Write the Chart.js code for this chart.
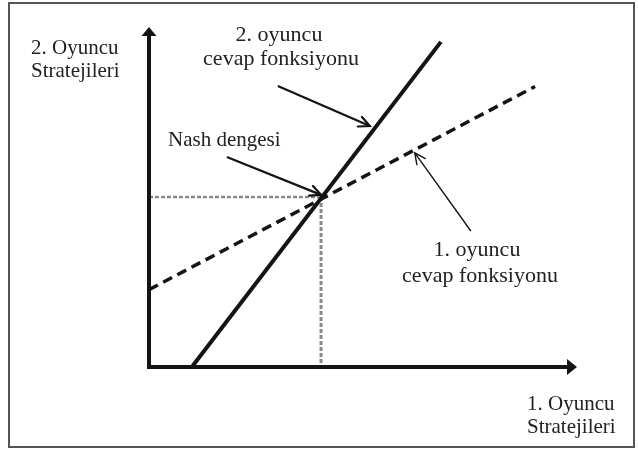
<!DOCTYPE html>
<html>
<head>
<meta charset="utf-8">
<script src="https://cdn.jsdelivr.net/npm/chart.js@4.4.1/dist/chart.umd.min.js"></script>
<style>
    html, body { margin: 0; padding: 0; background: #fff; }
    canvas { display: block; }
</style>
</head>
<body>
<canvas id="nashChart" width="638" height="449"></canvas>
<script>
// strategy space (abstract units)
var xMax = 10;
var yMax = 8;

// reaction functions, [x, y] end points
var player2Response = [[1, 0], [6.82, 7.65]];
var player1Response = [[0, 1.82], [9.02, 6.6]];
var nashPoint = [4.02, 4.0];

// pointer arrows from the labels, [from, to]
var nashPointer = [[1.82, 4.94], [4.02, 4.05]];
var player2Pointer = [[3.01, 6.61], [5.16, 5.67]];
var player1Pointer = [[7.52, 3.2], [6.21, 5.04]];

// texts
var yAxisTitle = ["2. Oyuncu", "Stratejileri"];
var xAxisTitle = ["1. Oyuncu", "Stratejileri"];
var player2Label = ["2. oyuncu", "cevap fonksiyonu"];
var player1Label = ["1. oyuncu", "cevap fonksiyonu"];
var nashLabel = "Nash dengesi";

function pts(arr) {
    return arr.map(function (p) { return { x: p[0], y: p[1] }; });
}

var ink = '#141414';
var FONT = '22px "Liberation Serif", "Times New Roman", serif';
var FONT_SMALL = '21px "Liberation Serif", "Times New Roman", serif';

var framePlugin = {
    id: 'frame',
    beforeDraw: function (chart) {
        var ctx = chart.ctx;
        ctx.save();
        ctx.fillStyle = '#fff';
        ctx.fillRect(0, 0, chart.width, chart.height);
        ctx.strokeStyle = '#555';
        ctx.lineWidth = 2;
        ctx.strokeRect(9, 3, 625, 444);
        ctx.restore();
    }
};

var axesPlugin = {
    id: 'axesArrows',
    afterDatasetsDraw: function (chart) {
        var ctx = chart.ctx;
        var x = chart.scales.x, y = chart.scales.y;
        var x0 = x.getPixelForValue(0), y0 = y.getPixelForValue(0);
        var x1 = x.getPixelForValue(xMax), y1 = y.getPixelForValue(yMax);
        ctx.save();
        ctx.strokeStyle = ink;
        ctx.fillStyle = ink;
        ctx.lineWidth = 4;
        ctx.lineJoin = 'miter';
        ctx.beginPath();
        ctx.moveTo(x0, y1 + 8);
        ctx.lineTo(x0, y0);
        ctx.lineTo(x1 - 8, y0);
        ctx.stroke();
        // heads
        ctx.beginPath();
        ctx.moveTo(x0, y1);
        ctx.lineTo(x0 - 7.5, y1 + 9);
        ctx.lineTo(x0 + 7.5, y1 + 9);
        ctx.closePath();
        ctx.fill();
        ctx.beginPath();
        ctx.moveTo(x1, y0);
        ctx.lineTo(x1 - 10, y0 - 8);
        ctx.lineTo(x1 - 10, y0 + 8);
        ctx.closePath();
        ctx.fill();
        ctx.restore();
    }
};

// open V heads at the end of pointer datasets
var pointerPlugin = {
    id: 'pointerHeads',
    afterDatasetsDraw: function (chart) {
        var ctx = chart.ctx;
        chart.data.datasets.forEach(function (ds, i) {
            if (!ds.arrowHead) return;
            var els = chart.getDatasetMeta(i).data;
            var a = els[els.length - 2], b = els[els.length - 1];
            var ang = Math.atan2(b.y - a.y, b.x - a.x);
            var len = 12, spread = 0.45;
            ctx.save();
            ctx.strokeStyle = ds.borderColor;
            ctx.lineWidth = ds.borderWidth;
            ctx.lineCap = 'round';
            ctx.beginPath();
            ctx.moveTo(b.x - len * Math.cos(ang - spread), b.y - len * Math.sin(ang - spread));
            ctx.lineTo(b.x, b.y);
            ctx.lineTo(b.x - len * Math.cos(ang + spread), b.y - len * Math.sin(ang + spread));
            ctx.stroke();
            ctx.restore();
        });
    }
};

var textPlugin = {
    id: 'texts',
    afterDraw: function (chart) {
        var ctx = chart.ctx;
        ctx.save();
        ctx.fillStyle = '#222';
        ctx.textBaseline = 'alphabetic';

        ctx.textAlign = 'left';
        ctx.font = FONT_SMALL;
        ctx.fillText(yAxisTitle[0], 31, 54);
        ctx.fillText(yAxisTitle[1], 31, 77);
        ctx.fillText(xAxisTitle[0], 527, 410);
        ctx.fillText(xAxisTitle[1], 527, 433);
        ctx.fillText(nashLabel, 168, 146);

        ctx.font = FONT;
        ctx.textAlign = 'center';
        ctx.fillText(player2Label[0], 279, 41);
        ctx.fillText(player2Label[1], 281, 65);
        ctx.fillText(player1Label[0], 477, 256);
        ctx.fillText(player1Label[1], 480, 282);
        ctx.restore();
    }
};

var ctx = document.getElementById("nashChart").getContext('2d');
var nashChart = new Chart(ctx, {
    type: 'scatter',
    data: {
        datasets: [{
            label: '2. oyuncu cevap fonksiyonu',
            data: pts(player2Response),
            showLine: true,
            borderColor: ink,
            borderWidth: 4,
            pointRadius: 0
        }, {
            label: '1. oyuncu cevap fonksiyonu',
            data: pts(player1Response),
            showLine: true,
            borderColor: ink,
            borderWidth: 3.5,
            borderDash: [10, 6],
            pointRadius: 0
        }, {
            label: 'nash pointer',
            data: pts(nashPointer),
            showLine: true,
            borderColor: ink,
            borderWidth: 2.2,
            pointRadius: 0,
            arrowHead: true
        }, {
            label: 'p2 pointer',
            data: pts(player2Pointer),
            showLine: true,
            borderColor: ink,
            borderWidth: 2.2,
            pointRadius: 0,
            arrowHead: true
        }, {
            label: 'p1 pointer',
            data: pts(player1Pointer),
            showLine: true,
            borderColor: ink,
            borderWidth: 1.4,
            pointRadius: 0,
            arrowHead: true
        }, {
            label: 'guide x',
            data: pts([[0, nashPoint[1]], [nashPoint[0], nashPoint[1]]]),
            showLine: true,
            borderColor: '#8a8a8a',
            borderWidth: 2.5,
            borderDash: [4, 2],
            pointRadius: 0
        }, {
            label: 'guide y',
            data: pts([[nashPoint[0], nashPoint[1]], [nashPoint[0], 0]]),
            showLine: true,
            borderColor: '#8a8a8a',
            borderWidth: 3,
            borderDash: [4, 2],
            pointRadius: 0
        }]
    },
    options: {
        responsive: false,
        animation: false,
        clip: false,
        layout: { padding: { left: 149, right: 61, top: 27, bottom: 82 } },
        plugins: { legend: { display: false }, tooltip: { enabled: false } },
        scales: {
            x: { type: 'linear', min: 0, max: xMax, display: false },
            y: { type: 'linear', min: 0, max: yMax, display: false }
        }
    },
    plugins: [framePlugin, axesPlugin, pointerPlugin, textPlugin]
});
</script>
</body>
</html>
